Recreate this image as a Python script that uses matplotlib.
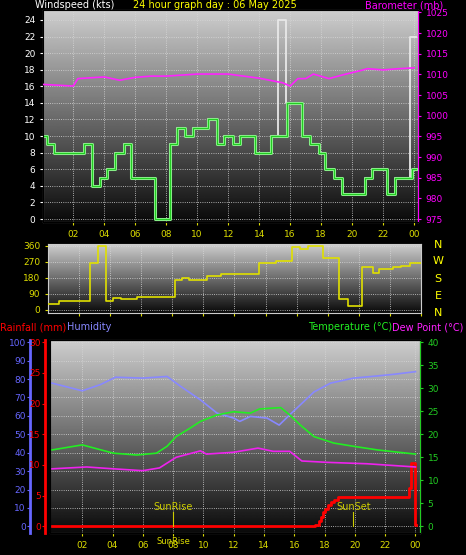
import numpy as np
import matplotlib
matplotlib.use('Agg')
import matplotlib.pyplot as plt

# === Data ===
wind_t = [0.0, 0.3, 0.73, 2.67, 3.2, 3.74, 4.17, 4.7, 5.25, 5.74, 7.25, 8.26, 8.69, 9.23, 9.76,
          10.73, 11.27, 11.74, 12.28, 12.77, 13.74, 14.75, 15.78, 16.75, 17.29, 17.83, 18.26,
          18.8, 19.33, 20.8, 21.27, 22.24, 22.77, 23.85, 24.1]
wind_v = [10, 9, 8, 9, 4, 5, 6, 8, 9, 5, 0, 9, 11, 10, 11, 12, 9, 10, 9, 10, 8, 10, 14, 10, 9,
          8, 6, 5, 3, 5, 6, 3, 5, 6, 6]
gust_t = [0.0, 0.3, 0.73, 2.67, 3.2, 3.74, 4.17, 4.7, 5.25, 5.74, 7.25, 8.26, 8.69, 9.23, 9.76,
          10.73, 11.27, 11.74, 12.28, 12.77, 13.74, 14.75, 15.2, 15.74, 16.75, 17.29, 17.83,
          18.26, 18.8, 19.33, 20.8, 21.27, 22.24, 22.77, 23.75, 24.1]
gust_v = [10, 9, 8, 9, 4, 5, 6, 8, 9, 5, 0, 9, 11, 10, 11, 12, 9, 10, 9, 10, 8, 10, 24, 14, 10,
          9, 8, 6, 5, 3, 5, 6, 3, 5, 22, 22]
baro_t = [0, 1.5, 2.0, 2.3, 4, 5, 6, 7, 8, 10, 12, 14, 15.5, 16, 16.5, 17, 17.5, 18.5, 19.5,
          20.5, 21, 22, 23, 24]
baro_v = [1007.6, 1007.3, 1007.2, 1009, 1009.4, 1008.6, 1009.3, 1009.6, 1009.6, 1010.1, 1010.1,
          1009.1, 1008.0, 1007.2, 1009.0, 1009.0, 1010.1, 1009.0, 1010.0, 1010.9, 1011.4,
          1011.1, 1011.4, 1011.6]

dir_t = [0, 0.7, 2.7, 3.2, 3.7, 4.2, 4.7, 5.7, 8.2, 8.6, 9.1, 10.2, 11.1, 12.7, 13.6, 14.7,
         15.7, 16.2, 16.7, 17.7, 18.7, 19.3, 20.2, 20.9, 21.3, 22.2, 22.7, 23.3, 24.0]
dir_v = [34, 50, 265, 360, 50, 70, 60, 75, 170, 180, 170, 190, 200, 205, 265, 275, 355, 345,
         360, 290, 60, 20, 240, 210, 230, 240, 250, 265, 265]

hum_t = [0, 2, 3.2, 4.2, 6, 7.6, 8.5, 9.8, 10.9, 12, 12.4, 13.1, 14.2, 15, 15.7, 16.4, 17.3,
         18.4, 19.9, 21.5, 22.6, 24]
hum_v = [77.8, 73.6, 77, 81, 80.5, 81.4, 76, 68.7, 61.5, 58.8, 57, 59.7, 58.8, 55, 60.6, 66,
         73, 77.8, 80.5, 81.7, 82.6, 84]
temp_t = [0, 2, 4.05, 5.6, 6.9, 7.6, 8.2, 9.1, 9.8, 10.9, 12, 13.1, 13.7, 15.1, 15.7, 16.4,
          17.3, 18.6, 19.9, 21.5, 24]
temp_v = [16.6, 17.7, 15.9, 15.5, 15.9, 17.4, 19.5, 21.3, 22.8, 24.2, 24.9, 24.6, 25.5, 25.8,
          24.2, 22.0, 19.5, 18.1, 17.4, 16.6, 15.7]
dew_t = [0, 2.3, 4.05, 6.0, 7.1, 8.2, 9.8, 10.2, 12.0, 13.6, 14.6, 15.7, 16.5, 18.2, 20.8, 24]
dew_v = [12.5, 12.9, 12.5, 12.1, 12.7, 15.0, 16.4, 15.7, 16.1, 17.0, 16.3, 16.3, 14.2, 13.9,
         13.6, 12.9]
rain_t = [0, 17.4, 17.6, 17.75, 17.9, 18.05, 18.2, 18.4, 18.6, 18.9, 23.6, 23.7, 23.85, 23.95, 24.05]
rain_v = [0, 0.3, 0.8, 1.5, 2.3, 2.9, 3.4, 3.9, 4.3, 4.8, 6.2, 10.3, 10.3, 0.3, 0.3]
sunrise, sunset = 8.0, 19.9

hour_ticks = list(range(2, 25, 2))
hour_labels = [f"{h % 24:02d}" for h in hour_ticks]

W, H = 466, 555
fig = plt.figure(figsize=(W / 100, H / 100), dpi=100, facecolor='black')
fs = 6.5
hfs = 7
grad = np.linspace(0, 1, 256).reshape(-1, 1)


def box(l, t, r, b):
    return [l / W, 1 - b / H, (r - l) / W, (b - t) / H]


def style(ax):
    ax.set_facecolor('black')
    ax.imshow(grad, extent=[0, 1, 0, 1], transform=ax.transAxes, cmap='gray',
              vmin=-0.05, vmax=1.25, aspect='auto', zorder=0, origin='lower')
    ax.set_xticks(hour_ticks)
    ax.grid(True, color='#d8d8d8', linestyle=':', linewidth=0.6, zorder=1)
    for s in ax.spines.values():
        s.set_color('#cccccc')
    ax.tick_params(colors='#dddd00', labelsize=fs, length=2)


# === Top: wind / barometer ===
ax1 = fig.add_axes(box(43, 10, 418, 222))
style(ax1)
ax1.set_xlim(0.05, 24.25)
ax1.set_ylim(-0.36, 25.2)
ax1.set_yticks(range(0, 25, 2))
ax1.tick_params(axis='y', colors='white')
ax1.set_xticklabels(hour_labels, color='#dddd00')
ax1.step(gust_t, gust_v, where='post', color='#e8e8e8', lw=1.3, zorder=3)
ax1.step(wind_t, wind_v, where='post', color='#8cf08c', lw=2.2, zorder=4)
ax1.step(wind_t, wind_v, where='post', color='#22cc22', lw=0.8, zorder=5)
ax1b = ax1.twinx()
ax1b.set_ylim(974.3, 1025.6)
ax1b.set_yticks(range(975, 1026, 5))
ax1b.tick_params(colors='#ff00ff', labelsize=fs, length=2)
ax1b.spines['right'].set_color('#ff00ff')
ax1b.plot(baro_t, baro_v, color='#ff22ff', lw=1.2, zorder=6)
fig.text(35 / W, 1 - 5 / H, 'Windspeed (kts)', color='white', fontsize=hfs, va='center')
fig.text(215 / W, 1 - 5 / H, '24 hour graph day : 06 May 2025', color='#ffff00',
         fontsize=hfs, va='center', ha='center')
fig.text(443 / W, 1 - 5 / H, 'Barometer (mb)', color='#ff00ff', fontsize=hfs, va='center',
         ha='right')

# === Middle: wind direction ===
ax2 = fig.add_axes(box(48, 244, 421, 313))
style(ax2)
ax2.set_xlim(0, 24)
ax2.set_ylim(-17, 371)
ax2.set_yticks([0, 90, 180, 270, 360])
ax2.set_xticklabels([])
ax2.plot(dir_t, dir_v, color='#e0e000', lw=1.2, drawstyle='steps-post', zorder=3)
for lab, yy in zip(['N', 'W', 'S', 'E', 'N'], [245, 261, 279, 296, 313]):
    fig.text(438 / W, 1 - yy / H, lab, color='#ffff00', fontsize=8, ha='center', va='center')

# === Bottom: rain / humidity / temperature ===
ax3 = fig.add_axes(box(50, 340, 420, 533))
style(ax3)
ax3.set_xlim(-0.13, 24.3)
hlim = (-3.6, 101.2)
ax3.set_ylim(*hlim)
ax3.set_yticks(range(0, 101, 10))
ax3.spines['left'].set_position(('axes', -0.054))
ax3.spines['left'].set_color('#6666ff')
ax3.spines['left'].set_linewidth(2)
ax3.tick_params(axis='y', colors='#6666ff', pad=1)
ax3.set_xticklabels(hour_labels, color='#dddd00')
ax3.plot(hum_t, hum_v, color='#8888ff', lw=1.2, zorder=4)

ax3r = ax3.twinx()
ax3r.set_ylim(hlim[0] * 0.3, hlim[1] * 0.3)
ax3r.set_yticks(range(0, 31, 5))
ax3r.yaxis.set_ticks_position('left')
ax3r.spines['left'].set_visible(True)
ax3r.spines['left'].set_position(('axes', -0.0135))
ax3r.spines['left'].set_color('red')
ax3r.spines['left'].set_linewidth(2)
ax3r.tick_params(colors='red', labelsize=fs, length=2, pad=1)
ax3r.step(rain_t, rain_v, where='post', color='red', lw=2, zorder=6)

ax3t = ax3.twinx()
ax3t.set_ylim(hlim[0] * 0.4, hlim[1] * 0.4)
ax3t.set_yticks(range(0, 41, 5))
ax3t.spines['right'].set_color('#22cc22')
ax3t.tick_params(colors='#22cc22', labelsize=fs, length=2)
ax3t.plot(temp_t, temp_v, color='#22ee22', lw=1.2)
ax3t.plot(dew_t, dew_v, color='#ee22ee', lw=1.2)
for t, name in [(sunrise, 'SunRise'), (sunset, 'SunSet')]:
    ax3t.plot([t, t], [0, 3.2], color='#cccc00', lw=0.8)
    ax3t.text(t, 4.2, name, color='#cccc00', fontsize=7, ha='center', va='center')
ax3.text(sunrise, -0.045, 'SunRise', color='#dddd00', fontsize=6, ha='center', va='center',
         transform=ax3.get_xaxis_transform())

fig.text(0, 1 - 327 / H, 'Rainfall (mm)', color='red', fontsize=hfs, va='center')
fig.text(67 / W, 1 - 327 / H, 'Humidity', color='#8888ff', fontsize=hfs, va='center')
fig.text(392 / W, 1 - 327 / H, 'Temperature (\u00b0C)', color='#22ee22', fontsize=hfs,
         va='center', ha='right')
fig.text(392 / W, 1 - 327 / H, 'Dew Point (\u00b0C)', color='#ff22ff', fontsize=hfs,
         va='center')

fig.savefig('out.png', dpi=100, facecolor='black')
